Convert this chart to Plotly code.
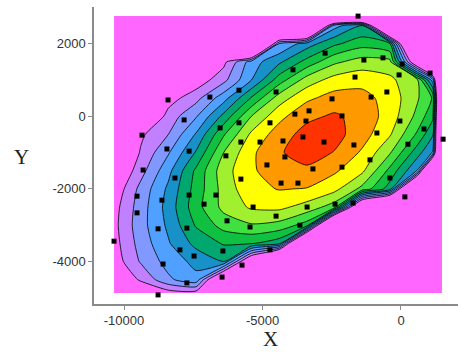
import plotly.graph_objects as go

# grid of the contoured field (levels 0..11 scale)
grid_x = [-10360, -9400, -8400, -7400, -6400, -5400, -4400, -3400, -2400, -1400, -400, 600, 1150, 1480]
grid_y = [-4870, -4500, -4000, -3500, -3000, -2500, -2000, -1500, -1000, -500, 0, 500, 1000, 1500, 2000, 2500, 2760]

level_z = [
    [-1.0, -0.3, 0.0, 0.0, -8, -8, -8, -8, -8, -8, -8, -8, -8, -8],
    [-0.3, 0.6, 2.3, 3.2, -3, -8, -8, -8, -8, -8, -8, -8, -8, -8],
    [-0.1, 1.6, 2.9, 3.8, 4.5, -2, -8, -8, -8, -8, -8, -8, -8, -8],
    [0.1, 1.9, 3.4, 4.8, 5.6, 5.6, 4.9, -8, -8, -8, -8, -8, -8, -8],
    [0.2, 2.1, 3.7, 5.6, 6.9, 7.4, 7.15, 6.05, -8, -8, -8, -8, -8, -8],
    [0.1, 2.0, 3.9, 6.1, 7.8, 8.65, 8.75, 8.1, 7.0, -4, -8, -8, -8, -8],
    [-0.3, 1.8, 3.7, 5.9, 7.9, 9.2, 9.55, 9.45, 8.8, 7.2, 5.0, -8, -8, -8],
    [-0.9, 1.1, 3.2, 5.7, 8.1, 9.3, 10.25, 10.3, 9.65, 8.7, 6.2, 3.4, -8, -8],
    [-1.6, 0.6, 2.4, 4.6, 7.5, 9.3, 10.4, 10.95, 10.45, 9.35, 7.6, 4.9, 3.4, -8],
    [-2.5, 0.3, 1.5, 3.6, 6.4, 8.7, 10.0, 10.9, 10.85, 9.95, 8.6, 6.3, 4.6, -8],
    [-3, -1.5, 0.9, 2.4, 4.8, 7.5, 9.2, 10.25, 10.65, 10.15, 9.05, 7.2, 5.7, -8],
    [-3, -2.7, 0.0, 1.15, 3.1, 5.6, 8.0, 9.3, 9.9, 9.85, 9.1, 7.6, 6.4, -8],
    [-3, -3, -2, -0.2, 1.2, 3.5, 6.0, 7.95, 8.9, 9.15, 8.75, 7.55, 3.0, -8],
    [-3, -3, -3, -1.5, 0.2, 3.0, 4.3, 5.85, 7.3, 7.95, 7.8, -2, -8, -8],
    [-3, -3, -3, -2.9, -1.2, -8, 2.5, 4.0, 5.3, 6.1, 5.5, -8, -8, -8],
    [-3, -3, -3, -3, -2.6, -8, -8, -8, 3.1, 4.5, -8, -8, -8, -8],
    [-3, -3, -3, -3, -3, -8, -8, -8, -8, -8, -8, -8, -8, -8],
]

# sample points (black squares)
pt_x = [-8410, -6900, -7830, -9350, -8450, -7650, -6530, -9310, -6320, -9530,
        -9530, -8630, -8160, -7650, -7110, -6680, -8770, -7730, -6280, -10360,
        -7980, -8590, -7470, -7730, -8770, -6430, -6460, -5340, -5450, -4510,
        -3390, -3650, -4730, -5740, -5780, -4330, -3720, -2380, -1730, -400,
        140, -1550, -2740, -3900, -5850, -4510, -1340, -650, 40, 1050,
        -1660, -70, -510, -2490, -1080, -3830, -3320, -3430, -2130, -4730,
        -5850, -5780, -5090, -4260, -3540, -2780, -1700, -870, -40, 830,
        1520, 250, -4190, -4840, -3180, -2130, -1120]
pt_y = [450, 530, -100, -520, -900, -960, -320, -1480, -1090, -2200,
        -2660, -2310, -1700, -2170, -2420, -2170, -3100, -3080, -2880, -3440,
        -3680, -4070, -3850, -4590, -4920, -3710, -4430, -2500, -3050, -2750,
        -2500, -3000, -3680, -4100, -1730, -1840, -1840, -2420, -2390, -1700,
        -2220, 2760, 1740, 1280, 720, 670, 1550, 1610, 1440, 1190,
        1080, 1140, 670, 480, 530, 60, 150, -130, 10, -180,
        -180, -710, -710, -680, -570, -710, -790, -460, -130, -350,
        -630, -770, -1120, -1340, -1450, -1400, -1200]

band_colors = ["#ff66ff", "#c080ff", "#8098ff", "#50a0ff", "#1890c8", "#00a870",
               "#10c040", "#40e040", "#a0f030", "#ffff00", "#ff9900", "#ff3300"]

x_ticks = [-10000, -5000, 0]
x_tick_text = ["-10000", "-5000", "0"]
y_ticks = [-4000, -2000, 0, 2000]
y_tick_text = ["-4000", "-2000", "0", "2000"]

fig = go.Figure()
fig.add_trace(go.Contour(
    x=grid_x, y=grid_y, z=level_z,
    contours=dict(start=0.5, end=10.5, size=1, coloring="fill"),
    colorscale=[[i / 11, c] for i, c in enumerate(band_colors)],
    showscale=False,
    line=dict(color="black", width=0.8, smoothing=0.6),
    hoverinfo="skip",
))
fig.add_trace(go.Scatter(
    x=pt_x, y=pt_y, mode="markers",
    marker=dict(symbol="square", size=5, color="black"),
    cliponaxis=False, hoverinfo="skip",
))

axis_common = dict(
    showline=True, linecolor="#8a8a8a", linewidth=1.5,
    ticks="outside", ticklen=4, tickcolor="#8a8a8a", tickwidth=1,
    showgrid=False, zeroline=False,
    tickfont=dict(family="Liberation Sans", size=13, color="#333333"),
)
fig.update_layout(
    width=458, height=352,
    margin=dict(l=94, r=0, t=7, b=48),
    paper_bgcolor="white", plot_bgcolor="white",
    showlegend=False,
    xaxis=dict(range=[-11083, 2058], tickvals=x_ticks, ticktext=x_tick_text, **axis_common),
    yaxis=dict(range=[-5171, 3011], tickvals=y_ticks, ticktext=y_tick_text, **axis_common),
    annotations=[
        dict(text="X", xref="paper", yref="paper", x=(270 - 94) / 364, y=-(339 - 304) / 297,
             showarrow=False, font=dict(family="Liberation Serif", size=21, color="#222"),
             xanchor="center", yanchor="middle"),
        dict(text="Y", xref="paper", yref="paper", x=-(94 - 21) / 364, y=(304 - 157) / 297,
             showarrow=False, font=dict(family="Liberation Serif", size=21, color="#222"),
             xanchor="center", yanchor="middle"),
    ],
)
fig.write_html("out.html")
